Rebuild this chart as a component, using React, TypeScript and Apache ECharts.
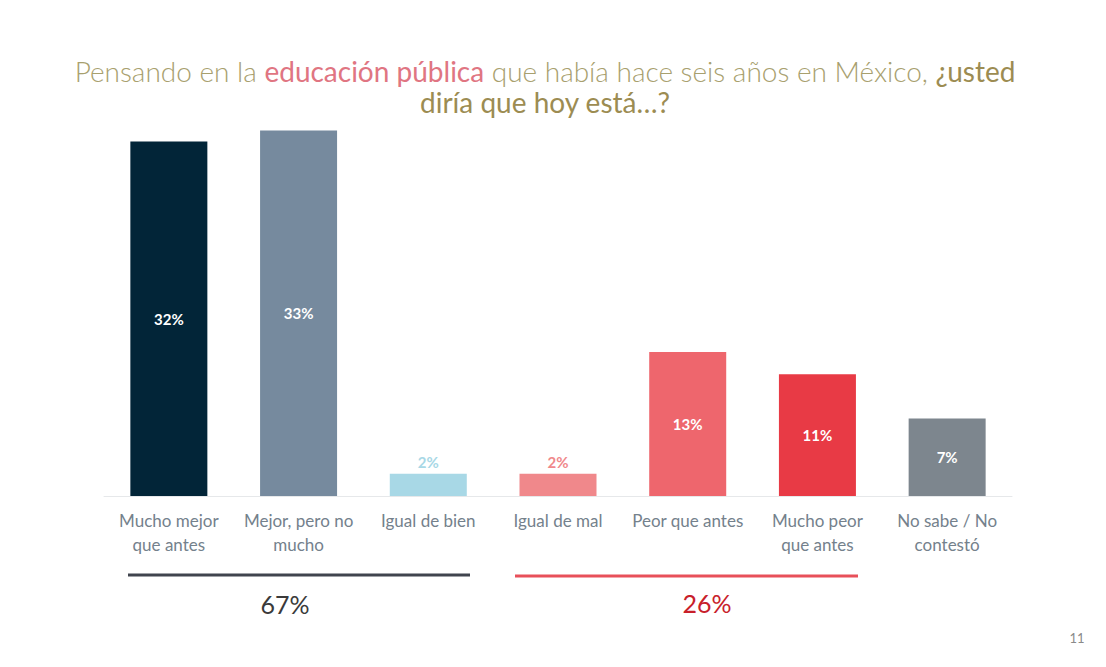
import React, { useEffect, useRef } from "react";
import * as echarts from "echarts";

const categories = [
  "Mucho mejor\nque antes",
  "Mejor, pero no\nmucho",
  "Igual de bien",
  "Igual de mal",
  "Peor que antes",
  "Mucho peor\nque antes",
  "No sabe / No\ncontestó",
];
const values = [32, 33, 2, 2, 13, 11, 7];
const barColors = ["#022538", "#768a9e", "#a8d8e6", "#f0888b", "#ee666d", "#e83a45", "#7d868e"];
const insideLabel = [true, true, false, false, true, true, true];
const groupTotals = ["67%", "26%"];
const pageNumber = "11";

const FONT = "Lato, 'Open Sans', sans-serif";

export default function App() {
  const ref = useRef<HTMLDivElement>(null);
  useEffect(() => {
    if (!ref.current) return;
    const chart = echarts.init(ref.current, null, { renderer: "svg" });
    chart.setOption({
      animation: false,
      backgroundColor: "#ffffff",
      title: {
        text: "Pensando en la {p|educación pública} que había hace seis años en México, {b|¿usted}\n{b|diría que hoy está…?}",
        left: 540,
        top: 50,
        textAlign: "center",
        textStyle: {
          fontFamily: FONT,
          fontSize: 28,
          fontWeight: 300,
          color: "#a8a06e",
          lineHeight: 31,
          rich: {
            p: { fontFamily: FONT, fontSize: 28, fontWeight: 400, color: "#e07582", lineHeight: 31 },
            b: { fontFamily: FONT, fontSize: 28, fontWeight: 400, color: "#9c8c52", lineHeight: 31 },
          },
        },
      },
      grid: { left: 104, right: 94, top: 53, bottom: 171 },
      xAxis: {
        type: "category",
        data: categories,
        axisLine: { lineStyle: { color: "#e6e8ea", width: 1 } },
        axisTick: { show: false },
        axisLabel: {
          interval: 0,
          margin: 12,
          color: "#74818c",
          fontFamily: FONT,
          fontSize: 17,
          lineHeight: 24,
        },
      },
      yAxis: { type: "value", min: 0, max: 40, show: false, splitLine: { show: false } },
      series: [
        {
          type: "bar",
          barWidth: 77,
          data: values.map((v, i) => ({
            value: v,
            itemStyle: { color: barColors[i] },
            label: insideLabel[i]
              ? { show: true, position: "inside", color: "#ffffff", fontWeight: "bold" }
              : { show: true, position: "top", color: barColors[i], fontWeight: "bold", distance: 4 },
          })),
          label: {
            show: true,
            formatter: "{c}%",
            fontFamily: FONT,
            fontSize: 15,
          },
        },
      ],
      graphic: [
        { type: "line", shape: { x1: 128, y1: 575, x2: 470, y2: 575 }, style: { stroke: "#40444e", lineWidth: 3 } },
        { type: "line", shape: { x1: 515, y1: 576, x2: 858, y2: 576 }, style: { stroke: "#e8505a", lineWidth: 3 } },
        {
          type: "text",
          x: 285,
          y: 604,
          style: { text: groupTotals[0], fill: "#3a3a3a", font: `400 25px ${FONT}`, align: "center", verticalAlign: "middle" },
        },
        {
          type: "text",
          x: 707,
          y: 603,
          style: { text: groupTotals[1], fill: "#c8202a", font: `400 25px ${FONT}`, align: "center", verticalAlign: "middle" },
        },
        {
          type: "text",
          x: 1077,
          y: 638,
          style: { text: pageNumber, fill: "#8a8a8a", font: `400 13px ${FONT}`, align: "center", verticalAlign: "middle" },
        },
      ],
    });
    return () => chart.dispose();
  }, []);
  return <div ref={ref} style={{ position: "fixed", left: 0, top: 0, width: 1106, height: 667 }} />;
}
